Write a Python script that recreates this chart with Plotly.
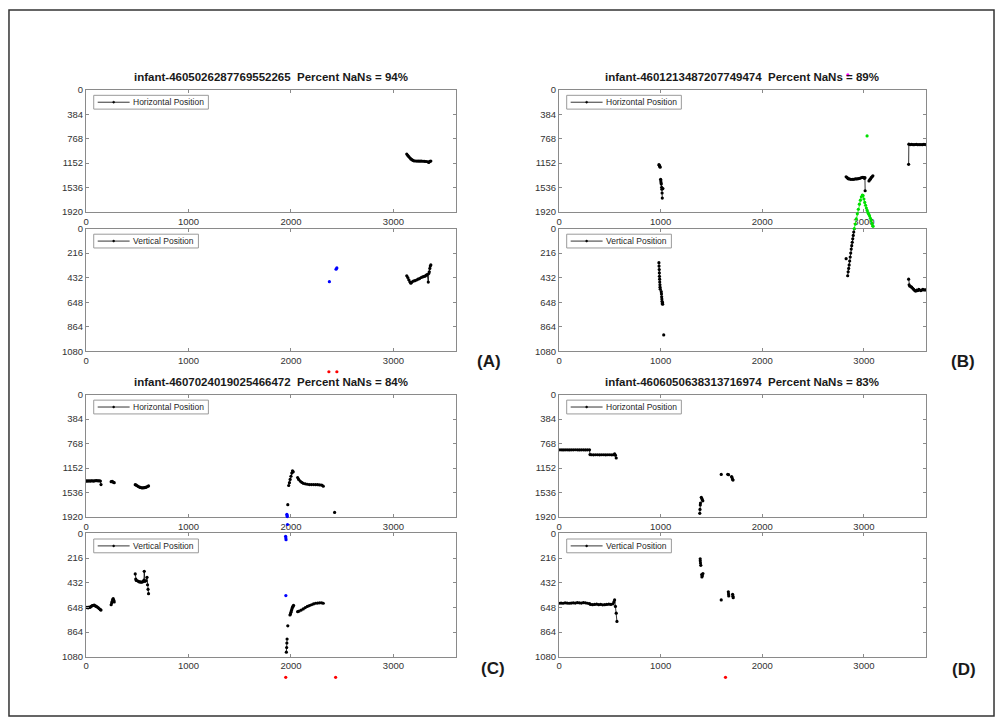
import plotly.graph_objects as go

W, H = 997, 726
FONT = "Liberation Sans, Arial, Helvetica, sans-serif"

# ---------------- text / ticks ----------------
TITLES = [
    "infant-4605026287769552265\u00a0\u00a0Percent NaNs = 94%",
    "infant-4601213487207749474\u00a0\u00a0Percent NaNs = 89%",
    "infant-4607024019025466472\u00a0\u00a0Percent NaNs = 84%",
    "infant-4606050638313716974\u00a0\u00a0Percent NaNs = 83%",
]
LABELS = ["(A)", "(B)", "(C)", "(D)"]
SERIES_NAMES = ["Horizontal Position", "Vertical Position"]
X_TICKS = [0, 1000, 2000, 3000]
H_TICKS = [0, 384, 768, 1152, 1536, 1920]
V_TICKS = [0, 216, 432, 648, 864, 1080]
X_MAX = 3610
H_MAX = 1920
V_MAX = 1080

# ---------------- data: panel A ----------------
A_H_X = [3130, 3140, 3150, 3160, 3170, 3180, 3190, 3200, 3215, 3230, 3245, 3260, 3275, 3290, 3305, 3320, 3335, 3345, 3355, 3365]
A_H_Y = [1010, 1030, 1050, 1068, 1085, 1098, 1108, 1115, 1118, 1120, 1120, 1121, 1120, 1122, 1124, 1126, 1130, 1140, 1125, 1120]
A_V_X = [3130, 3140, 3150, 3160, 3170, 3180, 3195, 3210, 3225, 3240, 3255, 3270, 3285, 3300, 3310, 3320, 3330, 3340, 3345, 3350, 3355, 3360, 3365]
A_V_Y = [415, 430, 450, 468, 480, 470, 462, 458, 452, 445, 440, 430, 425, 420, 418, 410, 405, 470, 395, 380, 350, 330, 320]
A_BLUE_V_X = [2375, None, 2440, 2448]
A_BLUE_V_Y = [467, None, 357, 346]
A_RED_V_X = [2370, 2448]
A_RED_V_Y = [1259, 1259]

# ---------------- data: panel B ----------------
B_H_X = [983, 987, 991, 995, None,
         1000, 1002, 1004, 1006, 1010, 1022, 1012, 1014, 1016, None,
         2825, 2835, 2845, 2855, 2870, 2885, 2900, 2915, 2930, 2945, 2960, 2975, 2990, 3000, 3005, 3010, 3012, None,
         3050, 3058, 3065, 3072, 3080, 3088, None,
         3440, 3442, 3455, 3470, 3485, 3500, 3515, 3530, 3545, 3560, 3575, 3590, 3605, 3620]
B_H_Y = [1175, 1185, 1200, 1215, None,
         1405, 1430, 1460, 1480, 1530, 1550, 1560, 1620, 1700, None,
         1365, 1380, 1395, 1400, 1405, 1405, 1405, 1400, 1400, 1395, 1390, 1380, 1375, 1380, 1390, 1380, 1585, None,
         1430, 1410, 1400, 1380, 1365, 1350, None,
         1170, 855, 860, 858, 862, 860, 858, 862, 860, 860, 862, 858, 860, 862]
B_V_X = [983, 984, 986, 987, 988, 990, 991, 993, 994, 996, None,
         1006, 1008, 1010, 1012, 1014, 1016, 1018, 1020, None,
         1030, None,
         2825, None,
         2840, 2845, 2850, 2855, 2860, 2865, 2870, 2875, 2880, 2885, 2890, 2895, 2900, 2905, None,
         3440, 3445, 3450, 3460, 3470, 3480, 3490, 3500, 3510, 3520, 3530, 3540, 3550, 3560, 3570, 3580, 3590, 3600, 3610, 3620]
B_V_Y = [300, 330, 360, 390, 420, 445, 470, 495, 515, 533, None,
         555, 575, 600, 620, 640, 660, 650, 665, None,
         935, None,
         265, None,
         415, 380, 350, 320, 285, 250, 215, 180, 150, 120, 90, 60, 30, 0, None,
         445, 495, 505, 510, 515, 525, 535, 545, 550, 540, 545, 535, 540, 545, 540, 535, 540, 538, 540, 540]
B_GREEN_V_X = [2905, 2915, 2925, 2935, 2945, 2955, 2965, 2975, 2985, 2992, 3000, 3008, 3016, 3024, 3032, 3040, 3048, 3056, 3064, 3072, 3080, 3086, 3090]
B_GREEN_V_Y = [0, -40, -85, -130, -170, -215, -250, -280, -295, -290, -260, -230, -205, -180, -160, -140, -125, -110, -90, -70, -45, -25, -20]
B_GREEN_H_X = [3031]
B_GREEN_H_Y = [725]
B_MAGENTA_H_X = [2842]
B_MAGENTA_H_Y = [-232]

# ---------------- data: panel C ----------------
C_H_X = [0, 10, 20, 30, 40, 50, 60, 70, 80, 90, 100, 110, 120, 130, 140, 146, None,
         245, 255, 265, 275, None,
         480, 490, 500, 510, 520, 530, 540, 550, 560, 570, 580, 590, 600, 610, None,
         1978, 1985, 1992, 2000, 2008, 2015, 2022, None,
         2065, 2075, 2090, 2105, 2120, 2140, 2160, 2180, 2200, 2220, 2240, 2260, 2280, 2300, 2315, None,
         1969, None, 2426]
C_H_Y = [1355, 1352, 1355, 1350, 1355, 1352, 1350, 1355, 1352, 1350, 1348, 1350, 1352, 1350, 1355, 1410, None,
         1365, 1360, 1372, 1380, None,
         1412, 1420, 1430, 1440, 1450, 1455, 1460, 1463, 1460, 1458, 1455, 1450, 1440, 1432, None,
         1425, 1380, 1330, 1280, 1230, 1195, 1210, None,
         1300, 1330, 1355, 1375, 1390, 1398, 1405, 1410, 1410, 1410, 1412, 1412, 1415, 1418, 1435, None,
         1725, None, 1847]
C_V_X = [0, 10, 20, 30, 40, 50, 60, 70, 80, 90, 100, 110, 120, 130, 140, 146, None,
         245, 250, 255, 260, 265, 270, 275, None,
         480, 485, 490, 500, 510, 520, 530, 540, 550, 560, 565, 568, 575, 585, 595, 600, 605, 610, None,
         1955, 1958, 1960, 1962, None,
         1969, None,
         1990, 1995, 2000, 2005, 2010, 2015, 2020, 2025, None,
         2065, 2080, 2100, 2120, 2140, 2160, 2180, 2200, 2220, 2240, 2260, 2280, 2300, 2315]
C_V_Y = [650, 648, 652, 645, 648, 640, 632, 630, 628, 635, 640, 645, 652, 660, 668, 672, None,
         625, 610, 595, 580, 572, 585, 600, None,
         355, 400, 412, 415, 420, 425, 425, 428, 425, 420, 410, 332, 420, 415, 385, 450, 490, 528, None,
         1040, 1000, 960, 925, None,
         810, None,
         715, 705, 690, 675, 660, 648, 638, 630, None,
         686, 680, 672, 662, 650, 640, 632, 625, 618, 612, 610, 608, 608, 612]
C_BLUE_H_X = [1960, 1962, 1964, None, 1966]
C_BLUE_H_Y = [1875, 1895, 1911, None, 2035]
C_BLUE_V_X = [1948, 1950, 1952, None, 1950]
C_BLUE_V_Y = [25, 40, 55, None, 545]
C_RED_V_X = [1949, 2436]
C_RED_V_Y = [1261, 1261]

# ---------------- data: panel D ----------------
D_H_X = [0, 20, 40, 60, 80, 100, 120, 140, 160, 180, 200, 220, 240, 260, 280, 300,
         305, 320, 340, 360, 380, 400, 420, 440, 460, 480, 500, 520, 540, 547, 555, 563, None,
         1385, 1387, 1390, 1392, None,
         1400, 1405, 1410, 1415, None,
         1596, None,
         1660, 1668, None,
         1698, 1702, 1708, 1712]
D_H_Y = [866, 866, 868, 866, 866, 868, 866, 866, 865, 866, 868, 866, 866, 868, 866, 866,
         940, 943, 945, 943, 943, 945, 943, 943, 945, 943, 943, 945, 943, 930, 950, 994, None,
         1860, 1800, 1730, 1700, None,
         1610, 1630, 1650, 1665, None,
         1252, None,
         1250, 1255, None,
         1285, 1300, 1330, 1340]
D_V_X = [0, 20, 40, 60, 80, 100, 120, 140, 160, 180, 200, 220, 240, 260, 280, 300,
         310, 330, 350, 370, 390, 410, 430, 450, 470, 490, 510, 531, 540, 547, 555, 563, 570, None,
         1389, 1390, 1392, 1395, None,
         1404, 1406, 1410, 1416, None,
         1596, None,
         1666, 1668, 1670, None,
         1708, 1711, 1714]
D_V_Y = [612, 610, 612, 608, 610, 612, 610, 608, 610, 606, 608, 610, 606, 608, 612, 616,
         622, 624, 622, 620, 624, 622, 626, 624, 622, 620, 622, 617, 600, 583, 640, 699, 771, None,
         222, 240, 260, 280, None,
         360, 381, 370, 352, None,
         583, None,
         511, 530, 548, None,
         534, 550, 563]
D_RED_V_X = [1638]
D_RED_V_Y = [1261]

# ---------------- layout geometry (pixels) ----------------
COL_PX = [(83.3, 454.3), (557.7, 925.7)]
ROW_PX = [((85.0, 209.3), (226.0, 350.7)), ((394.5, 519.0), (535.5, 660.7))]
TITLE_Y_PX = [72.0, 381.5]
LABEL_PX = [(487, 361), (963, 361), (491, 673), (964, 674)]
LEGEND_W_PX = [115.0, 105.0]
EXT_TOP, EXT_BOT = 40.0, 30.0

PANELS = [
    dict(h=(A_H_X, A_H_Y), v=(A_V_X, A_V_Y),
         extra=[("v", A_BLUE_V_X, A_BLUE_V_Y, "#0000ff", "lines+markers"),
                ("vx", A_RED_V_X, A_RED_V_Y, "#ff0000", "markers")]),
    dict(h=(B_H_X, B_H_Y), v=(B_V_X, B_V_Y),
         extra=[("vx", B_GREEN_V_X, B_GREEN_V_Y, "#00e000", "lines+markers"),
                ("h", B_GREEN_H_X, B_GREEN_H_Y, "#00e000", "markers"),
                ("hx", B_MAGENTA_H_X, B_MAGENTA_H_Y, "#ff00ff", "markers")]),
    dict(h=(C_H_X, C_H_Y), v=(C_V_X, C_V_Y),
         extra=[("hx", C_BLUE_H_X, C_BLUE_H_Y, "#0000ff", "lines+markers"),
                ("v", C_BLUE_V_X, C_BLUE_V_Y, "#0000ff", "lines+markers"),
                ("vx", C_RED_V_X, C_RED_V_Y, "#ff0000", "markers")]),
    dict(h=(D_H_X, D_H_Y), v=(D_V_X, D_V_Y),
         extra=[("vx", D_RED_V_X, D_RED_V_Y, "#ff0000", "markers")]),
]


def key(prefix, n):
    return prefix if n == 1 else f"{prefix}{n}"


def ydom(t, b):
    return [1 - b / H, 1 - t / H]


def px(x):
    return x / W


def py(y):
    return 1 - y / H


fig = go.Figure()
layout = dict(
    width=W, height=H, margin=dict(l=0, r=0, t=0, b=0),
    paper_bgcolor="white", plot_bgcolor="rgba(0,0,0,0)",
    font=dict(family=FONT, size=9.5, color="#333333"),
    showlegend=False, annotations=[], shapes=[],
)

AX_STYLE = dict(ticks="inside", ticklen=3, tickcolor="#8a8a8a", showline=True,
                linecolor="#8a8a8a", linewidth=1, mirror="ticks", showgrid=False,
                zeroline=False, tickfont=dict(size=9.5, color="#333333"))

for k, p in enumerate(PANELS):
    col, row = k % 2, k // 2
    xl, xr = COL_PX[col]
    xdom = [xl / W, xr / W]
    (ht, hb), (vt, vb) = ROW_PX[row]
    n_h, n_v = 2 * k + 1, 2 * k + 2
    n_hx, n_vx = 9 + 2 * k, 10 + 2 * k
    axes = {"h": (n_h, ht, hb, H_MAX, H_TICKS, 0),
            "v": (n_v, vt, vb, V_MAX, V_TICKS, 1)}
    for kind, (n, t, b, m, tv, si) in axes.items():
        layout[key("xaxis", n)] = dict(domain=xdom, range=[0, X_MAX], tickvals=X_TICKS,
                                       anchor=key("y", n), **AX_STYLE)
        layout[key("yaxis", n)] = dict(domain=ydom(t, b), range=[m, 0], tickvals=tv,
                                       anchor=key("x", n), **AX_STYLE)
        xs, ys = p[kind]
        fig.add_trace(go.Scatter(x=xs, y=ys, mode="lines+markers", name=SERIES_NAMES[si],
                                 line=dict(color="black", width=0.8),
                                 marker=dict(color="black", size=3.2),
                                 xaxis=key("x", n), yaxis=key("y", n),
                                 showlegend=False, connectgaps=False, hoverinfo="skip"))
        # legend box (MATLAB style) drawn in pixel space
        lx0, ly0 = xl + 7.7, t + 5.7
        lx1, ly1 = lx0 + LEGEND_W_PX[si], ly0 + 14.0
        lym = (ly0 + ly1) / 2
        layout["shapes"].append(dict(type="rect", xref="paper", yref="paper",
                                     x0=px(lx0), x1=px(lx1), y0=py(ly1), y1=py(ly0),
                                     line=dict(color="#9a9a9a", width=1), fillcolor="white"))
        layout["shapes"].append(dict(type="line", xref="paper", yref="paper",
                                     x0=px(lx0 + 4), x1=px(lx0 + 36), y0=py(lym), y1=py(lym),
                                     line=dict(color="black", width=0.8)))
        layout["shapes"].append(dict(type="circle", xref="paper", yref="paper",
                                     x0=px(lx0 + 19), x1=px(lx0 + 21), y0=py(lym + 1), y1=py(lym - 1),
                                     line=dict(color="black", width=0.5), fillcolor="black"))
        layout["annotations"].append(dict(
            text=SERIES_NAMES[si], x=px(lx0 + 37.5), y=py(lym), xref="paper", yref="paper",
            xanchor="left", yanchor="middle", showarrow=False,
            font=dict(size=8.5, color="#262626", family=FONT)))
        # extended overlay axis with identical scale, covering more area
        nx = n_hx if kind == "h" else n_vx
        s = m / (b - t)
        T, B = t - EXT_TOP, b + EXT_BOT
        layout[key("xaxis", nx)] = dict(domain=xdom, range=[0, X_MAX], visible=False,
                                        anchor=key("y", nx))
        layout[key("yaxis", nx)] = dict(domain=ydom(T, B), range=[(B - t) * s, (T - t) * s],
                                        visible=False, anchor=key("x", nx))
    for target, xs, ys, color, mode in p["extra"]:
        n = {"h": n_h, "v": n_v, "hx": n_hx, "vx": n_vx}[target]
        fig.add_trace(go.Scatter(x=xs, y=ys, mode=mode, showlegend=False,
                                 line=dict(color=color, width=0.8),
                                 marker=dict(color=color, size=3.2),
                                 xaxis=key("x", n), yaxis=key("y", n),
                                 connectgaps=False, hoverinfo="skip"))
    layout["annotations"].append(dict(
        text=f"<b>{TITLES[k]}</b>", x=(xl + xr) / 2 / W, y=py(TITLE_Y_PX[row]),
        xref="paper", yref="paper", xanchor="center", yanchor="middle", showarrow=False,
        font=dict(size=11.5, color="#1a1a1a", family=FONT)))
    lx, ly = LABEL_PX[k]
    layout["annotations"].append(dict(
        text=f"<b>{LABELS[k]}</b>", x=px(lx), y=py(ly), xref="paper", yref="paper",
        xanchor="center", yanchor="middle", showarrow=False,
        font=dict(size=17, color="#1a1a1a", family=FONT)))

layout["shapes"].append(dict(type="rect", xref="paper", yref="paper",
                             x0=px(6), x1=px(994), y0=py(721), y1=py(4),
                             line=dict(color="#333333", width=1.5)))

fig.update_layout(**layout)
fig.write_html(
    "out.html",
    config={"displayModeBar": False},
    post_script=("document.documentElement.style.overflow='hidden';"
                 "document.body.style.margin='0';document.body.style.overflow='hidden';"),
)
